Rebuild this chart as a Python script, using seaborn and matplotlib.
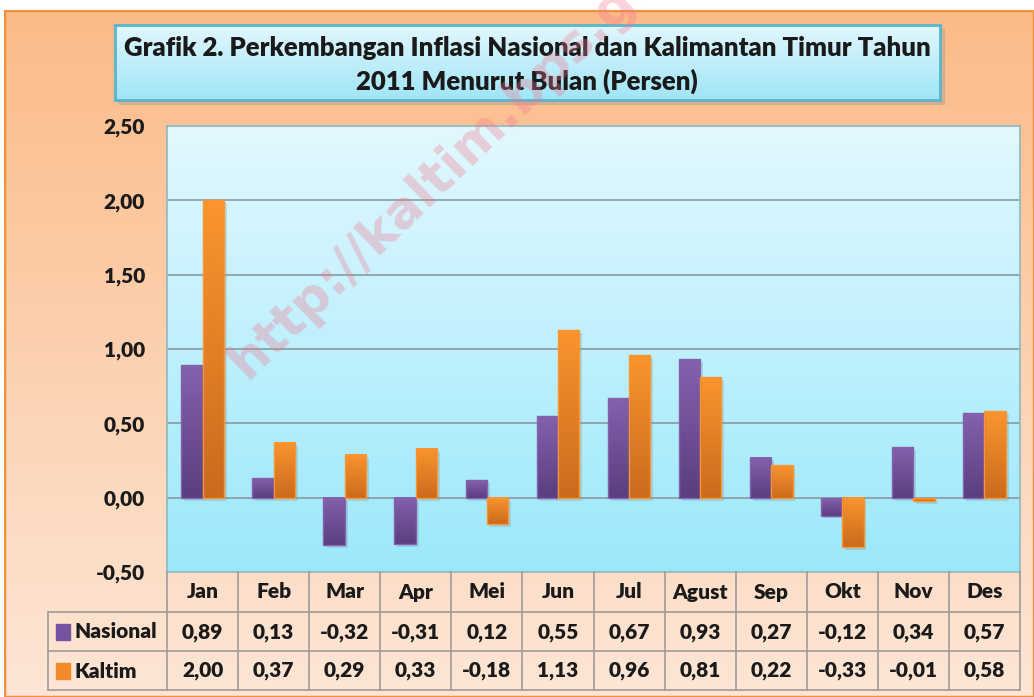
import numpy as np
import pandas as pd
import matplotlib
matplotlib.use('Agg')
import matplotlib.pyplot as plt
from matplotlib.patches import Rectangle
from matplotlib.colors import LinearSegmentedColormap
import seaborn as sns

# data
bulan = ['Jan', 'Feb', 'Mar', 'Apr', 'Mei', 'Jun', 'Jul', 'Agust', 'Sep', 'Okt', 'Nov', 'Des']
nasional = [0.89, 0.13, -0.32, -0.31, 0.12, 0.55, 0.67, 0.93, 0.27, -0.12, 0.34, 0.57]
kaltim = [2.00, 0.37, 0.29, 0.33, -0.18, 1.13, 0.96, 0.81, 0.22, -0.33, -0.01, 0.58]
seri = ['Nasional', 'Kaltim']
yticks = [-0.5, 0.0, 0.5, 1.0, 1.5, 2.0, 2.5]

df = pd.DataFrame({
    'Bulan': bulan * 2,
    'Inflasi': nasional + kaltim,
    'Seri': [seri[0]] * 12 + [seri[1]] * 12,
})

sns.set_theme(style='white')
plt.rcParams['font.family'] = ['Lato', 'DejaVu Sans']
plt.rcParams['font.weight'] = 'heavy'

W, H = 1034, 697
fig = plt.figure(figsize=(W / 100, H / 100), dpi=100)
fig.patch.set_facecolor('white')
txt = '#1a1a1a'
wt = 'heavy'


def fx(px):
    return px / W


def fy(py):
    return 1 - py / H


def vgrad(top, bottom, n=256):
    cm = LinearSegmentedColormap.from_list('g', [top, bottom])
    return cm, np.linspace(0, 1, n).reshape(-1, 1)


def fmt(v):
    return f'{v:.2f}'.replace('.', ',')


# orange background panel
bg = fig.add_axes([fx(4), 0, fx(W - 4), fy(10)])
bg.set_zorder(-3)
cm, g = vgrad('#fbbb88', '#fde6d6')
bg.imshow(g, cmap=cm, aspect='auto', extent=[0, 1, 0, 1])
bg.set_xlim(0, 1)
bg.set_ylim(0, 1)
bg.axis('off')
bg.add_patch(Rectangle((0, 0), 1, 1, fill=False, ec='#f0913a', lw=2.5, transform=bg.transAxes))
# title box shadow
bg.add_patch(Rectangle((fx(119) / fx(W - 4) - 0.004, fy(104) / fy(10)), fx(825) / fx(W - 4),
                       (fy(29) - fy(104)) / fy(10), color='#c9a58a', alpha=0.6,
                       transform=bg.transAxes))

# title box
tb = fig.add_axes([fx(115), fy(100), fx(940 - 115), fy(25) - fy(100)])
cm, g = vgrad('#e2f7fd', '#9fe5f7')
tb.imshow(g, cmap=cm, aspect='auto', extent=[0, 1, 0, 1])
tb.set_xlim(0, 1)
tb.set_ylim(0, 1)
tb.set_xticks([])
tb.set_yticks([])
for s in tb.spines.values():
    s.set_color('#58b6cc')
    s.set_linewidth(2)
fig.text(fx(527), fy(48), 'Grafik 2. Perkembangan Inflasi Nasional dan Kalimantan Timur Tahun',
         ha='center', va='center', fontsize=18.5, fontweight=wt, color=txt)
fig.text(fx(527), fy(81), '2011 Menurut Bulan (Persen)',
         ha='center', va='center', fontsize=18.5, fontweight=wt, color=txt)

# plot area
ax = fig.add_axes([fx(167), fy(572), fx(1020 - 167), fy(126) - fy(572)])
cm, g = vgrad('#e2f8fe', '#9be8fb')
ax.imshow(g, cmap=cm, aspect='auto', extent=[-0.5, 11.5, -0.5, 2.5], zorder=0)

purple = '#7553a0'
orange = '#f28a2a'
sns.barplot(data=df, x='Bulan', y='Inflasi', hue='Seri', palette=[purple, orange],
            width=0.6, ax=ax, legend=False, zorder=3, linewidth=0)

# gradient fill for each bar
grads = {
    purple: ('#8461ad', '#5a3e7e'),
    orange: ('#fa952f', '#cb6a1d'),
}
for i, p in enumerate(ax.patches):
    col = purple if i < 12 else orange
    x0, y0 = p.get_x(), p.get_y()
    w, h = p.get_width(), p.get_height()
    ylo, yhi = min(y0, y0 + h), max(y0, y0 + h)
    if yhi - ylo < 0.02:
        ylo, yhi = -0.02, 0.0
    top, bot = grads[col]
    ax.add_patch(Rectangle((x0 + 0.04, ylo - 0.02), w, yhi - ylo, color='#6f8f99',
                           alpha=0.25, lw=0, zorder=3))
    cmb, gb = vgrad(top, bot)
    ax.imshow(gb, cmap=cmb, aspect='auto', extent=[x0, x0 + w, ylo, yhi], zorder=4)
    ax.add_patch(Rectangle((x0, ylo), w, yhi - ylo, fill=False, ec=top, lw=1, zorder=5))

ax.set_xlim(-0.5, 11.5)
ax.set_ylim(-0.5, 2.5)
ax.set_yticks(yticks)
ax.set_yticklabels([fmt(v) for v in yticks], fontsize=15, fontweight=wt, color=txt)
ax.tick_params(axis='y', length=0, pad=16)
ax.set_xticks([])
ax.set_xlabel('')
ax.set_ylabel('')
for v in yticks[1:-1]:
    ax.axhline(v, color='#8a9a9e', lw=1.2, zorder=2)
for s in ax.spines.values():
    s.set_color('#8fb8c0')
    s.set_linewidth(1.2)

# data table below the chart
col_w = (1020 - 167) / 12
rows_y = [572, 612, 651, 690]
line_c = '#a09a96'
for k in range(13):
    xk = 167 + k * col_w
    fig.add_artist(plt.Line2D([fx(xk), fx(xk)], [fy(572), fy(690)], color=line_c, lw=1.2))
fig.add_artist(plt.Line2D([fx(48), fx(48)], [fy(612), fy(690)], color=line_c, lw=1.2))
for yk in rows_y[1:]:
    fig.add_artist(plt.Line2D([fx(48), fx(1020)], [fy(yk), fy(yk)], color=line_c, lw=1.2))

for k, b in enumerate(bulan):
    cx = 167 + (k + 0.5) * col_w
    fig.text(fx(cx), fy(592), b, ha='center', va='center', fontsize=15, fontweight=wt, color=txt)
    fig.text(fx(cx), fy(632), fmt(nasional[k]), ha='center', va='center',
             fontsize=15, fontweight=wt, color=txt)
    fig.text(fx(cx), fy(671), fmt(kaltim[k]), ha='center', va='center',
             fontsize=15, fontweight=wt, color=txt)

for name, col, yc in [(seri[0], purple, 632), (seri[1], orange, 671)]:
    fig.add_artist(Rectangle((fx(56), fy(yc + 8)), fx(14), fy(yc - 8) - fy(yc + 8),
                             color=col, transform=fig.transFigure))
    fig.text(fx(74), fy(yc), name, ha='left', va='center', fontsize=15, fontweight=wt, color=txt)

# watermark
fig.text(fx(255), fy(388), 'http://kaltim.bps.go.id', rotation=44, rotation_mode='anchor',
         ha='left', va='bottom', fontsize=37, fontweight='bold', color='#f07890', alpha=0.33,
         family='DejaVu Sans')

fig.savefig('out.png', dpi=100)
